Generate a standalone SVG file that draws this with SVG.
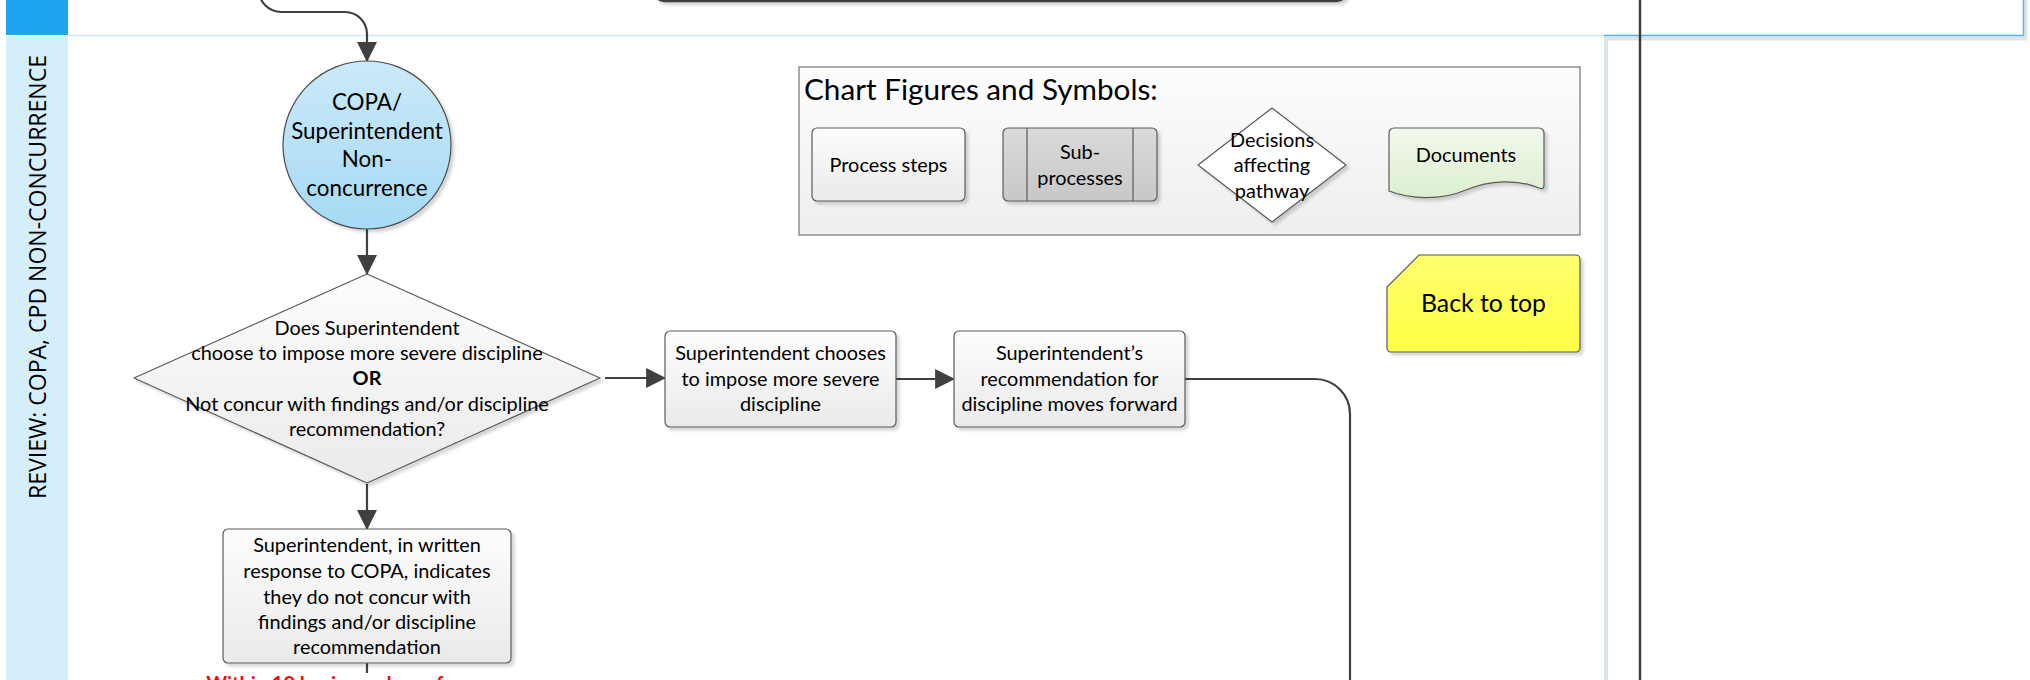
<svg xmlns="http://www.w3.org/2000/svg" width="2030" height="680" viewBox="0 0 2030 680">
<style>
.t{font-family:Lato,"Liberation Sans",sans-serif;fill:#000;text-anchor:middle}
.s21{font-size:19.9px}
.s24{font-size:22.4px}
.box{fill:url(#procGrad);stroke:#5a5a5a;stroke-width:1.2}
.conn{fill:none;stroke:#404040;stroke-width:2.2}
.arr{marker-end:url(#ah)}
</style>
<defs>
<linearGradient id="procGrad" x1="0" y1="0" x2="0" y2="1"><stop offset="0" stop-color="#fdfdfd"/><stop offset="1" stop-color="#eaeaea"/></linearGradient>
<linearGradient id="circGrad" x1="0" y1="0" x2="0" y2="1"><stop offset="0" stop-color="#cbe9f9"/><stop offset="1" stop-color="#a6daf5"/></linearGradient>
<linearGradient id="legGrad" x1="0" y1="0" x2="0" y2="1"><stop offset="0" stop-color="#fdfdfd"/><stop offset="1" stop-color="#eeeeee"/></linearGradient>
<linearGradient id="subGrad" x1="0" y1="0" x2="0" y2="1"><stop offset="0" stop-color="#dadada"/><stop offset="1" stop-color="#c8c8c8"/></linearGradient>
<linearGradient id="docGrad" x1="0" y1="0" x2="0" y2="1"><stop offset="0" stop-color="#f2f8ec"/><stop offset="1" stop-color="#dcefcf"/></linearGradient>
<linearGradient id="yelGrad" x1="0" y1="0" x2="0" y2="1"><stop offset="0" stop-color="#ffff6e"/><stop offset="1" stop-color="#ffff45"/></linearGradient>
<filter id="sh" x="-10%" y="-10%" width="130%" height="130%"><feDropShadow dx="3" dy="3" stdDeviation="1.5" flood-color="#000" flood-opacity="0.16"/></filter>
<marker id="ah" markerUnits="userSpaceOnUse" markerWidth="20" markerHeight="20" viewBox="0 0 18 18" refX="17" refY="9" orient="auto"><path d="M0,0 L18,9 L0,18 Z" fill="#404040"/></marker>
</defs>

<g id="background">
<rect x="0" y="0" width="2030" height="680" fill="#ffffff"/>
<rect x="6" y="0" width="62" height="35" fill="#1fa4ef"/>
<rect x="6" y="36" width="62" height="650" fill="#d4eefc"/>
<line x1="68" y1="35.5" x2="1604" y2="35.5" stroke="#cfe7f6" stroke-width="1.5"/>
<rect x="1604" y="36.5" width="423" height="4" fill="#e3e3e3"/>
<rect x="2023.5" y="0" width="4" height="40" fill="#e3e3e3"/>
<line x1="1604" y1="35.5" x2="2023.5" y2="35.5" stroke="#4db4ef" stroke-width="1.5"/>
<line x1="2023.5" y1="0" x2="2023.5" y2="36" stroke="#4db4ef" stroke-width="1.5"/>
<rect x="1604" y="37" width="4" height="650" fill="#e4e4e4"/>
<line x1="1604.5" y1="37" x2="1604.5" y2="680" stroke="#d3e8f5" stroke-width="1"/>
<text class="t" transform="translate(45.5,277) rotate(-90)" style="font-family:'Open Sans','Noto Sans',sans-serif;font-size:23px" textLength="444" lengthAdjust="spacingAndGlyphs">REVIEW: COPA, CPD NON-CONCURRENCE</text>
</g>

<g id="top-node">
<rect x="655" y="-60" width="691" height="61" rx="9" fill="#f4f4f4" stroke="#404040" stroke-width="2.4" filter="url(#sh)"/>
</g>

<g id="connectors">
<path class="conn arr" d="M259,-20 L259,-10 A22,22 0 0 0 281,12 L345,12 A22,22 0 0 1 367,34 L367,61"/>
<path class="conn arr" d="M367,229 L367,274"/>
<path class="conn arr" d="M605,378 L665,378"/>
<path class="conn arr" d="M367,484 L367,529"/>
<path class="conn arr" d="M896,379 L954,379"/>
<path class="conn" d="M1185,379 L1315,379 A35,35 0 0 1 1350,414 L1350,690"/>
<path class="conn" d="M367,663 L367,673"/>
<line x1="1640" y1="0" x2="1640" y2="680" stroke="#3f3f3f" stroke-width="2.5"/>
</g>

<g id="start-circle">
<circle cx="367" cy="145" r="84" fill="url(#circGrad)" stroke="#4a4a4a" stroke-width="1.2" filter="url(#sh)"/>
<text class="t s24" x="367" y="110">COPA/</text>
<text class="t s24" x="367" y="139">Superintendent</text>
<text class="t s24" x="367" y="167">Non-</text>
<text class="t s24" x="367" y="196">concurrence</text>
</g>

<g id="decision">
<polygon points="367,274 600,378 367,483 134,378" fill="url(#procGrad)" stroke="#5a5a5a" stroke-width="1.2" stroke-linejoin="round" filter="url(#sh)"/>
<text class="t s21" x="367" y="335">Does Superintendent</text>
<text class="t s21" x="367" y="360">choose to impose more severe discipline</text>
<text class="t s21" x="367" y="385" font-weight="bold">OR</text>
<text class="t s21" x="367" y="411">Not concur with findings and/or discipline</text>
<text class="t s21" x="367" y="436">recommendation?</text>
</g>

<g id="written-response">
<rect class="box" x="223" y="529" width="288" height="134" rx="5" filter="url(#sh)"/>
<text class="t s21" x="367" y="552">Superintendent, in written</text>
<text class="t s21" x="367" y="578">response to COPA, indicates</text>
<text class="t s21" x="367" y="604">they do not concur with</text>
<text class="t s21" x="367" y="629">findings and/or discipline</text>
<text class="t s21" x="367" y="654">recommendation</text>
</g>

<g id="within-10-days">
<text class="t s21" x="367" y="690" font-weight="bold" style="fill:#ff0000">Within 10 business days of response</text>
</g>

<g id="more-severe">
<rect class="box" x="665" y="331" width="231" height="96" rx="5" filter="url(#sh)"/>
<text class="t s21" x="780.5" y="360">Superintendent chooses</text>
<text class="t s21" x="780.5" y="386">to impose more severe</text>
<text class="t s21" x="780.5" y="411">discipline</text>
</g>

<g id="moves-forward">
<rect class="box" x="954" y="331" width="231" height="96" rx="5" filter="url(#sh)"/>
<text class="t s21" x="1069.5" y="360">Superintendent’s</text>
<text class="t s21" x="1069.5" y="386">recommendation for</text>
<text class="t s21" x="1069.5" y="411">discipline moves forward</text>
</g>

<g id="legend">
<rect x="799" y="67" width="781" height="168" fill="url(#legGrad)" stroke="#7f7f7f" stroke-width="1.3"/>
<text class="t" x="804" y="100" style="text-anchor:start;font-size:29.7px">Chart Figures and Symbols:</text>
<g id="legend-process">
<rect class="box" x="812" y="128" width="153" height="73" rx="5" filter="url(#sh)"/>
<text class="t s21" x="888.5" y="172">Process steps</text>
</g>
<g id="legend-subprocess">
<rect x="1003" y="128" width="154" height="73" rx="5" fill="url(#subGrad)" stroke="#5a5a5a" stroke-width="1.2" filter="url(#sh)"/>
<line x1="1027" y1="128" x2="1027" y2="201" stroke="#5a5a5a" stroke-width="1.2"/>
<line x1="1133" y1="128" x2="1133" y2="201" stroke="#5a5a5a" stroke-width="1.2"/>
<text class="t s21" x="1080" y="159">Sub-</text>
<text class="t s21" x="1080" y="185">processes</text>
</g>
<g id="legend-decision">
<polygon points="1272,108 1346,165 1272,222 1198,165" fill="#ffffff" stroke="#5a5a5a" stroke-width="1.2" stroke-linejoin="round" filter="url(#sh)"/>
<text class="t s21" x="1272" y="147">Decisions</text>
<text class="t s21" x="1272" y="172">affecting</text>
<text class="t s21" x="1272" y="198">pathway</text>
</g>
<g id="legend-documents">
<path d="M1389,133 A5,5 0 0 1 1394,128 L1539,128 A5,5 0 0 1 1544,133 L1544,186 Q1543,190 1539,188 C1517,179 1490,180 1466,190 C1440,201 1410,199 1389,191 Z" fill="url(#docGrad)" stroke="#5a5a5a" stroke-width="1.2" filter="url(#sh)"/>
<text class="t s21" x="1466" y="162">Documents</text>
</g>
</g>

<g id="back-to-top">
<path d="M1419,255 L1576,255 A4,4 0 0 1 1580,259 L1580,348 A4,4 0 0 1 1576,352 L1391,352 A4,4 0 0 1 1387,348 L1387,287 Z" fill="url(#yelGrad)" stroke="#595959" stroke-width="1.2" filter="url(#sh)"/>
<text class="t" x="1483.5" y="312" style="font-size:24.8px">Back to top</text>
</g>
</svg>
